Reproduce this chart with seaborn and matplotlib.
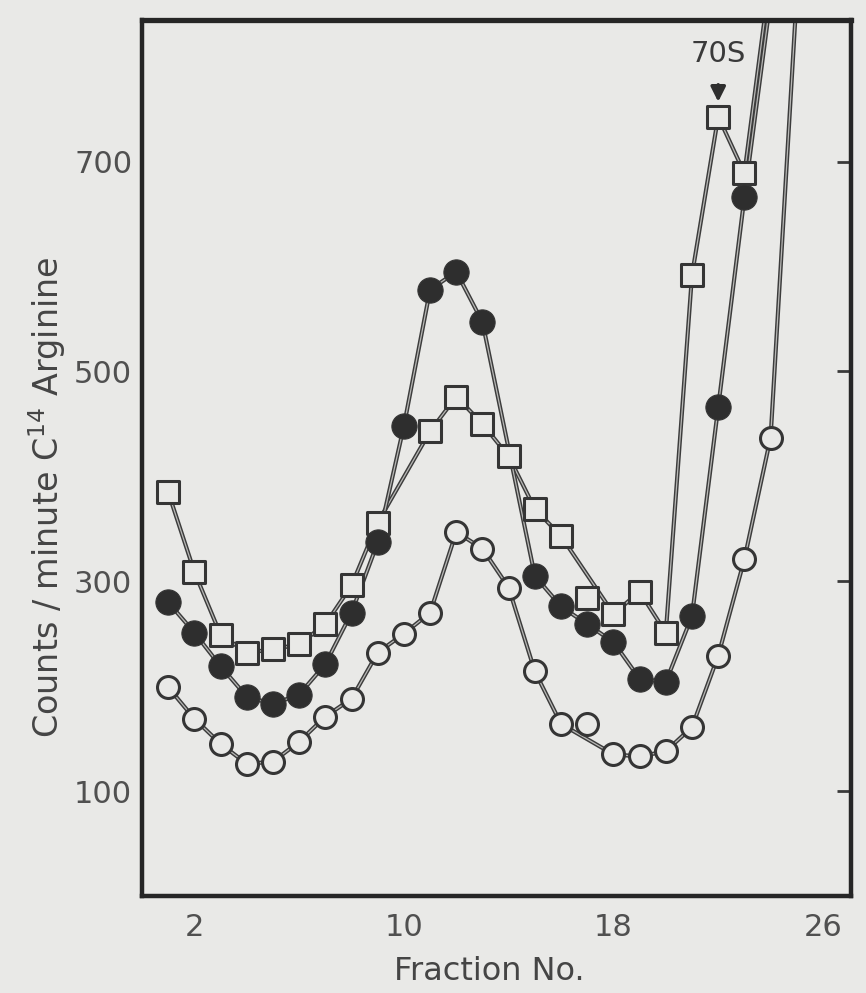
import numpy as np
import pandas as pd
import seaborn as sns
import matplotlib.pyplot as plt
import matplotlib.patheffects as pe

# values (counts / minute)
filled_frac = [1, 2, 3, 4, 5, 6, 7, 8, 9, 10, 11, 12, 13, 15, 16, 17, 18, 19, 20, 21, 22, 23, 24]
filled_cpm = [280, 251, 219, 190, 183, 192, 221, 270, 337, 448, 578, 595, 547,
              305, 276, 259, 242, 207, 204, 267, 466, 666, 855]

square_frac = [1, 2, 3, 4, 5, 6, 7, 8, 9, 11, 12, 13, 14, 15, 16, 17, 18, 19, 20, 21, 22, 23, 24]
square_cpm = [385, 309, 249, 232, 235, 240, 259, 296, 356, 443, 476, 450, 419,
              369, 343, 284, 269, 290, 251, 592, 743, 689, 880]
square_off_curve = [17]

open_frac = list(range(1, 26))
open_cpm = [199, 169, 145, 126, 128, 147, 171, 188, 232, 250, 270, 347, 331, 294,
            214, 164, 164, 135, 133, 138, 161, 229, 321, 437, 860]
open_off_curve = [17]

x_ticks = [2, 10, 18, 26]
y_ticks = [100, 300, 500, 700]

bg = '#e9e9e7'
ink = '#2e2e2e'

sns.set_style('white')
plt.rcParams['font.family'] = ['DejaVu Sans']

fig = plt.figure(figsize=(8.66, 9.93), dpi=100, facecolor=bg)
ax = fig.add_axes([142 / 866, 1 - 896 / 993, 709 / 866, 876 / 993])
ax.set_facecolor(bg)

def draw_series(frac, cpm, off, marker, face, size, edge_w):
    df = pd.DataFrame({'frac': frac, 'cpm': cpm})
    line = df[~df['frac'].isin(off)]
    sns.lineplot(data=line, x='frac', y='cpm', ax=ax, sort=False, estimator=None,
                 color='#b8b8b6', lw=0.9, zorder=2,
                 path_effects=[pe.Stroke(linewidth=3.0, foreground='#3c3c3c'), pe.Normal()])
    sns.scatterplot(data=df, x='frac', y='cpm', ax=ax, marker=marker, s=size,
                    color=face, edgecolor='#353535', linewidth=edge_w, zorder=3)

draw_series(open_frac, open_cpm, open_off_curve, 'o', bg, 250, 2.2)
draw_series(square_frac, square_cpm, square_off_curve, 's', bg, 240, 2.2)
draw_series(filled_frac, filled_cpm, [], 'o', ink, 330, 0.8)

ax.annotate('70S', xy=(22, 757), xytext=(22, 803), ha='center', va='center',
            fontsize=21, color='#3a3a3a',
            arrowprops=dict(arrowstyle='-|>', color=ink, lw=2.5, mutation_scale=22,
                            shrinkA=10, shrinkB=0))

ax.set_xlim(0, 27.07)
ax.set_ylim(0, 835)
ax.set_xticks(x_ticks)
ax.set_yticks(y_ticks)
ax.tick_params(axis='both', direction='in', length=10, width=2, color='#3a3a3a',
               labelsize=22, labelcolor='#505050')
ax.tick_params(axis='x', pad=12)
ax.tick_params(axis='y', pad=7, right=True)

for side, s in ax.spines.items():
    s.set_visible(True)
    s.set_color('#262626')
    s.set_linewidth(3.2 if side != 'top' else 3.8)

ax.set_xlabel('Fraction No.', fontsize=23, color='#454545')
ax.set_ylabel('Counts / minute C$^{\\mathregular{14}}$ Arginine', fontsize=24, color='#454545')
ax.xaxis.set_label_coords(0.49, -0.068)
ax.yaxis.set_label_coords(-0.105, 0.455)

fig.savefig('out.png', dpi=100, facecolor=bg)
